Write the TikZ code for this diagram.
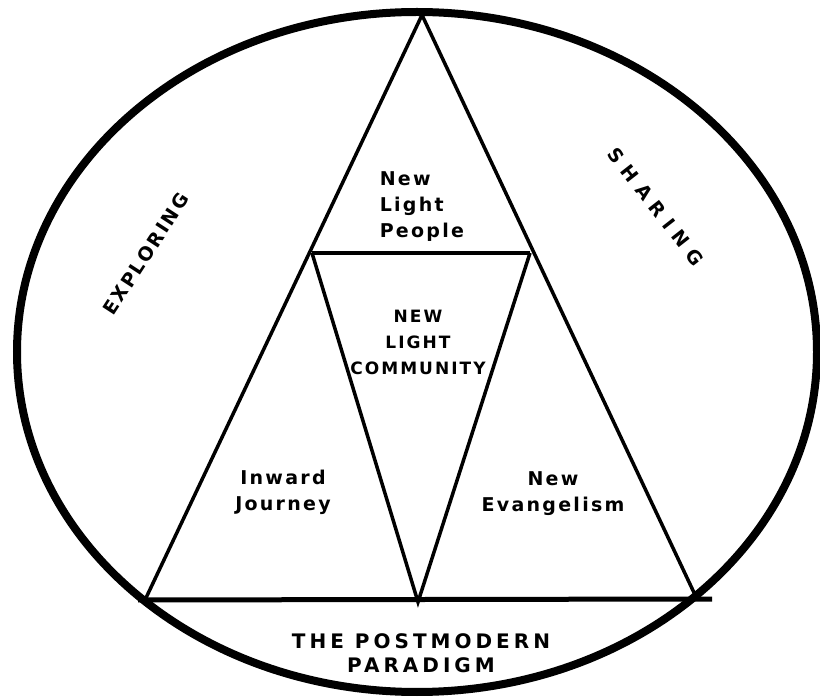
\documentclass[tikz,border=0pt]{standalone}
\usepackage{fontspec}
\setmainfont{DejaVu Sans}[LetterSpace=12]
\begin{document}
\begin{tikzpicture}[x=1pt, y=-1pt, line width=3.5pt]
  \tikzset{lbl/.style={font=\bfseries\fontsize{19}{26}\selectfont, align=center, inner sep=0pt}}
  \useasboundingbox (0,0) rectangle (820,700);
  % outer ring
  \draw[line width=8pt] (417,352) ellipse [x radius=400, y radius=340];
  % triangle corners
  \coordinate (T) at (422,15);
  \coordinate (BL) at (145,600); \coordinate (BR) at (697,599);
  \coordinate (ML) at (312,253); \coordinate (MR) at (530,253);
  \coordinate (BM) at (418,602);
  \coordinate (EL) at (138,600); \coordinate (ER) at (712,599);
  \draw (T) -- (BL);
  \draw (T) -- (BR);
  \draw[line width=4pt] (ML) -- (MR);
  \draw (ML) -- (BM) -- (MR);
  \draw[line width=5pt] (EL) -- (ER);
  % labels
  \node[lbl, align=left, anchor=west] (people) at (378,207) {New\\Light\\People};
  \node[lbl, font=\bfseries\fontsize{17}{26}\selectfont] (community) at (418,342) {NEW\\LIGHT\\COMMUNITY};
  \node[lbl] (inward) at (283,492) {Inward\\Journey};
  \node[lbl] (evang) at (553,494) {New\\Evangelism};
  \node[lbl, font=\bfseries\fontsize{20}{24}\selectfont\addfontfeatures{LetterSpace=20}] (paradigm) at (421,653) {THE POSTMODERN\\PARADIGM};
  \node[lbl, rotate=57] (explore) at (146,254) {EXPLORING};
  \node[lbl, rotate=-52, font=\bfseries\fontsize{19}{26}\selectfont\addfontfeatures{LetterSpace=40}] (share) at (656,207) {SHARING};
\end{tikzpicture}
\end{document}
